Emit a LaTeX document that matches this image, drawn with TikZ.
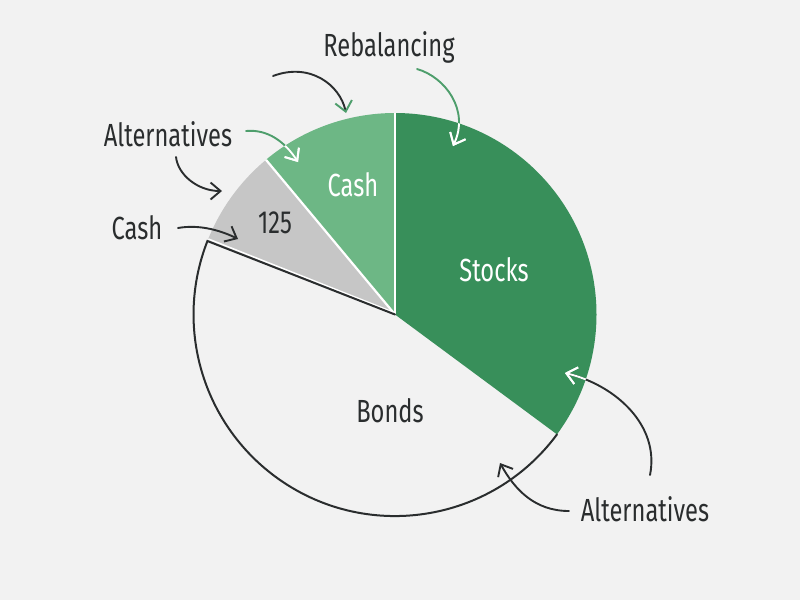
\documentclass[tikz,border=0pt]{standalone}
\usepackage{fontspec}
\setmainfont[FakeStretch=0.74]{Fira Sans}
\usetikzlibrary{arrows.meta,calc}
\definecolor{bgc}{HTML}{F2F2F2}
\definecolor{stockc}{HTML}{388F5A}
\definecolor{cashc}{HTML}{6DB785}
\definecolor{grayc}{HTML}{C6C6C6}
\definecolor{inkc}{HTML}{2A2D2E}
\definecolor{linegreen}{HTML}{4E9E6C}
\tikzset{
  lab/.style={font=\fontsize{32}{34}\selectfont,text=inkc,inner sep=0pt,anchor=center},
  wlab/.style={lab,text=white},
  cv/.style={line width=1.9pt,line cap=round,draw=inkc},
  tipd/.style={-{Straight Barb[length=10pt,width=17pt,line width=1.9pt,color=#1]}},
  sep/.style={draw=white,line width=2.2pt}
}
\begin{document}
\begin{tikzpicture}[x=1pt,y=-1pt]
\useasboundingbox (0,0) rectangle (800,600);
\fill[bgc] (0,0) rectangle (800,600);
\coordinate (O) at (395,314.5);
\coordinate (A) at (395,113);
\coordinate (B) at (557,434.4);
\coordinate (C) at (207.4,241);
\coordinate (D) at (266,159.8);
% slices
\fill[stockc] (O) -- (A) arc[start angle=-90,end angle=36.5,radius=201.5] -- cycle;
\fill[cashc] (O) -- (A) arc[start angle=-90,end angle=-129.8,radius=201.5] -- cycle;
\fill[grayc] (O) -- (D) arc[start angle=-129.8,end angle=-158.6,radius=201.5] -- cycle;
\draw[sep] (O) -- (A);
\draw[sep] (O) -- (D);
\draw[draw=white,line width=1.5pt] ($(O)+(-1,-2)$) -- ($(C)+(1,-2)$);
\draw[cv,line width=2pt] (B) arc[start angle=36.5,end angle=201.4,radius=201.5] -- (O);
% labels
\node[lab] (reb) at (389,47) {Rebalancing};
\node[lab] (alt1) at (168,134) {Alternatives};
\node[wlab] (cash1) at (353,185) {Cash};
\node[lab] (num) at (275,223) {125};
\node[lab] (cash2) at (137,228) {Cash};
\node[wlab] (stocks) at (494,270) {Stocks};
\node[lab] (bonds) at (390,411) {Bonds};
\node[lab] (alt2) at (645,509) {Alternatives};
% connector ends
\coordinate (s1) at (273,76); \coordinate (e1) at (346,113);
\coordinate (s2) at (417,69); \coordinate (e2) at (453,146);
\coordinate (s3) at (246,131); \coordinate (e3) at (298,162);
\coordinate (s4) at (176,157); \coordinate (e4) at (222,191);
\coordinate (s5) at (178,228); \coordinate (e5) at (238,239);
\coordinate (s6) at (650,475); \coordinate (e6) at (565,373);
\coordinate (s7) at (569,511); \coordinate (e7) at (500,463);
% connectors
\draw[cv,tipd=linegreen] (s1) .. controls (310,62) and (340,85) .. (e1);
\draw[cv,draw=linegreen,tipd=white] (s2) .. controls (445,77) and (470,110) .. (e2);
\draw[cv,draw=linegreen,tipd=white] (s3) .. controls (268,129) and (285,142) .. (e3);
\draw[cv,tipd=inkc] (s4) .. controls (178,175) and (198,191) .. (e4);
\draw[cv,tipd=inkc] (s5) .. controls (200,224) and (222,231) .. (e5);
\draw[cv,tipd=white] (s6) .. controls (660,425) and (615,385) .. (e6);
\draw[cv,tipd=inkc] (s7) .. controls (535,511) and (515,490) .. (e7);
% parts of the curves that lie on the slices
\begin{scope}
\clip (O) -- (A) arc[start angle=-90,end angle=36.5,radius=201.5] -- cycle;
\draw[cv,draw=white,tipd=white] (s6) .. controls (660,425) and (615,385) .. (e6);
\draw[cv,draw=white,tipd=white] (s2) .. controls (445,77) and (470,110) .. (e2);
\end{scope}
\begin{scope}
\clip (O) -- (A) arc[start angle=-90,end angle=-129.8,radius=201.5] -- cycle;
\draw[cv,draw=white,tipd=white] (s3) .. controls (268,129) and (285,142) .. (e3);
\end{scope}
\end{tikzpicture}
\end{document}
